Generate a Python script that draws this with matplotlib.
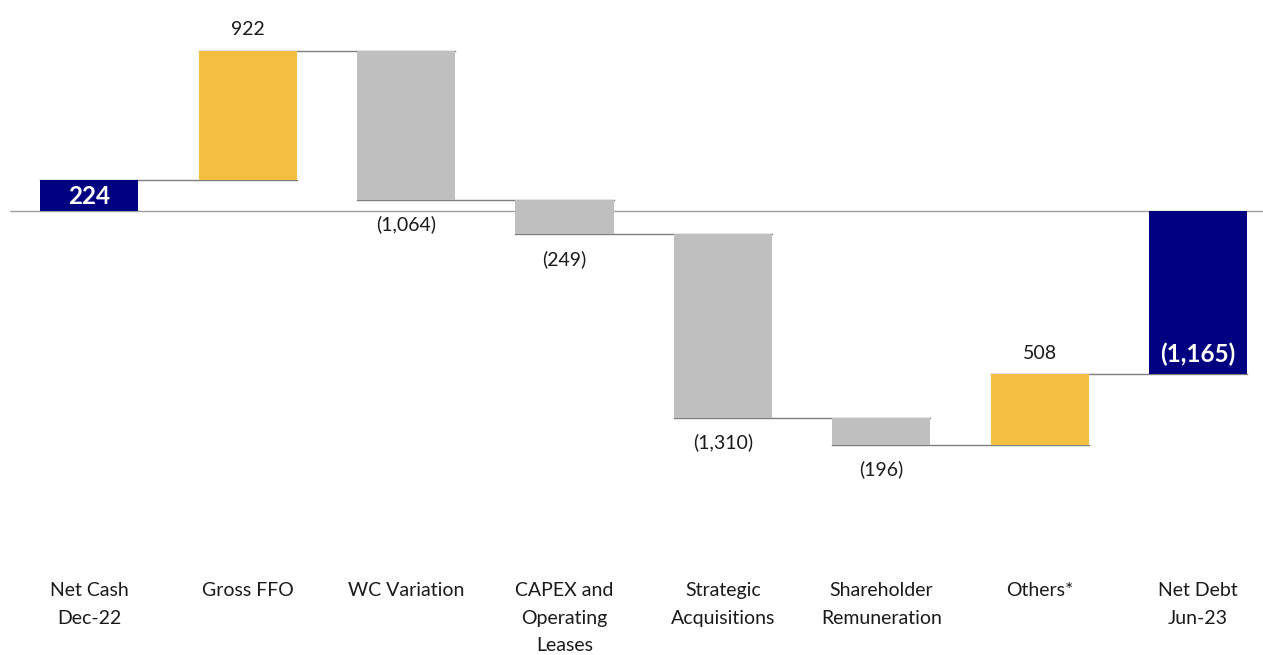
import matplotlib
matplotlib.use('Agg')
import matplotlib.pyplot as plt

plt.rcParams['font.family'] = ['Lato', 'DejaVu Sans']

# data
categories = ['Net Cash\nDec-22', 'Gross FFO', 'WC Variation', 'CAPEX and\nOperating\nLeases',
              'Strategic\nAcquisitions', 'Shareholder\nRemuneration', 'Others*', 'Net Debt\nJun-23']
changes = [224, 922, -1064, -249, -1310, -196, 508, -1165]
labels = ['224', '922', '(1,064)', '(249)', '(1,310)', '(196)', '508', '(1,165)']
kinds = ['total', 'up', 'down', 'down', 'down', 'down', 'up', 'total']

colours = {'total': '#000080', 'up': '#F4BE41', 'down': '#BFBFBF'}

fig = plt.figure(figsize=(12.63, 6.55), dpi=100)
ax = fig.add_axes([10 / 1263, 0, 1 - 10 / 1263, 1])
ax.set_xlim(-0.5, 7.41)
ax.set_ylim(-3171, 1507)
ax.axis('off')

w = 0.62
level = 0
levels = []
for i, (c, k) in enumerate(zip(changes, kinds)):
    if k == 'total':
        bottom = 0
        level = c
    else:
        bottom = level
        level = level + c
    levels.append(level)
    ax.bar(i, c, bottom=bottom, width=w, color=colours[k], zorder=2)

    top = max(bottom, bottom + c)
    low = min(bottom, bottom + c)
    if k == 'total':
        if c > 0:
            ax.text(i, (bottom + top) / 2 - 10, labels[i], ha='center', va='center',
                    color='white', fontsize=17.5, fontweight='bold', zorder=3)
        else:
            ax.text(i, low + 60, labels[i], ha='center', va='bottom',
                    color='white', fontsize=17.5, fontweight='bold', zorder=3)
    elif c > 0:
        ax.text(i, top + 90, labels[i], ha='center', va='bottom', fontsize=14, color='#1a1a1a')
    else:
        ax.text(i, low - 110, labels[i], ha='center', va='top', fontsize=14, color='#1a1a1a')

# connector lines
for i in range(len(changes) - 1):
    ax.plot([i - w / 2, i + 1 + w / 2], [levels[i], levels[i]], color='#7f7f7f', lw=1, zorder=1)

# zero line
ax.axhline(0, color='#a0a0a0', lw=1, zorder=1)

for i, cat in enumerate(categories):
    ax.text(i, -2650, cat, ha='center', va='top', fontsize=14, linespacing=1.75, color='#1a1a1a')

fig.savefig('out.png', dpi=100)
